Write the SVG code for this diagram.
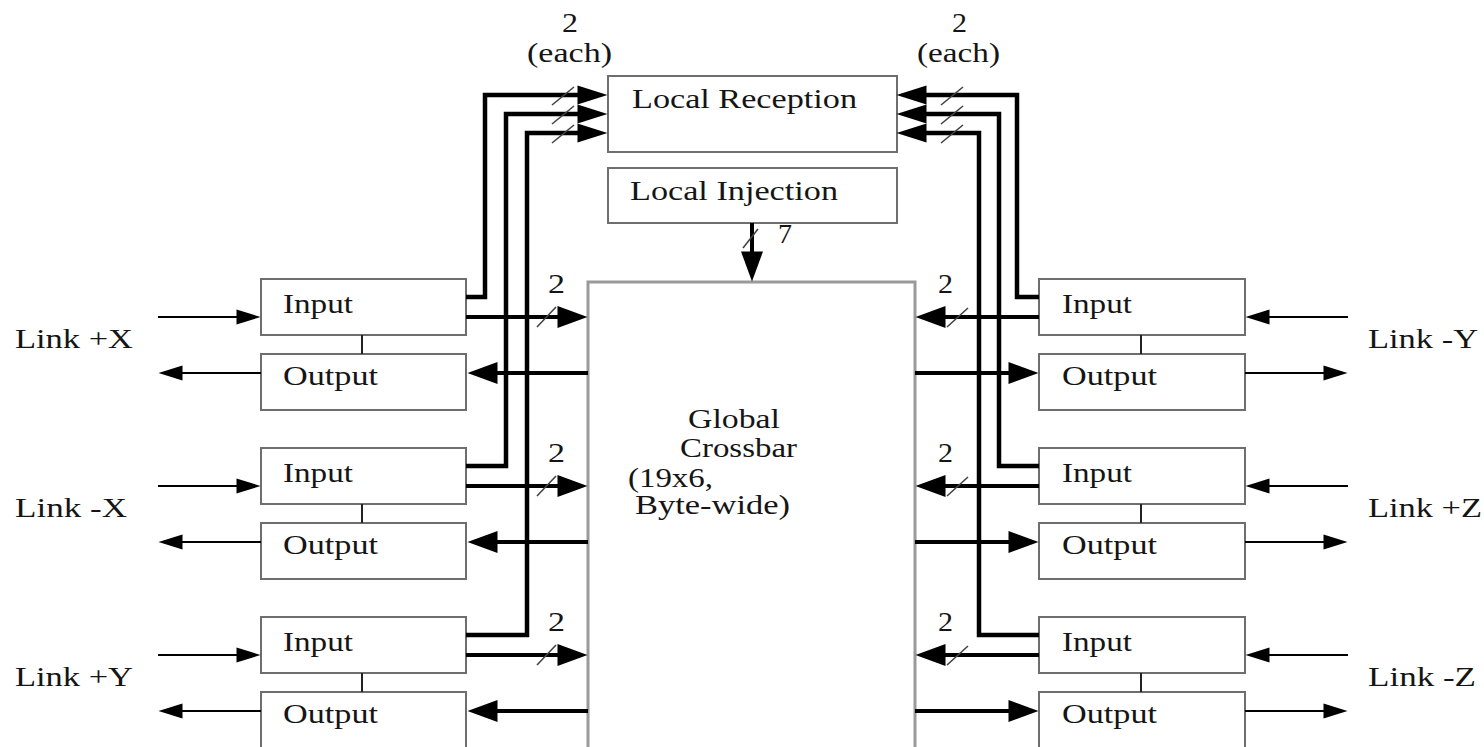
<svg xmlns="http://www.w3.org/2000/svg" width="1484" height="747" viewBox="0 0 1484 747">
  <style>
    .box { fill: #ffffff; stroke: #6e6e6e; stroke-width: 2; }
    .xbar { fill: #ffffff; stroke: #9a9a9a; stroke-width: 3; }
    .lbl { font-family: "Liberation Serif", "Times New Roman", serif; font-size: 27px; fill: #151515; }
    .bus { fill: none; stroke: #000; stroke-width: 4; }
    .route { fill: none; stroke: #000; stroke-width: 4.5; stroke-linejoin: miter; }
    .link { fill: none; stroke: #000; stroke-width: 2; }
    .tie { fill: none; stroke: #222; stroke-width: 2; }
    .slash { fill: none; stroke: #444; stroke-width: 1.6; }
  </style>
  <defs>
    <marker id="headBig" markerUnits="userSpaceOnUse" markerWidth="32" markerHeight="24" refX="0.5" refY="11" orient="auto" overflow="visible">
      <path d="M0,0 L30,11 L0,22 z" fill="#000"/>
    </marker>
    <marker id="headRx" markerUnits="userSpaceOnUse" markerWidth="31" markerHeight="21" refX="0.5" refY="9.5" orient="auto" overflow="visible">
      <path d="M0,0 L30,9.5 L0,19 z" fill="#000"/>
    </marker>
    <marker id="headThin" markerUnits="userSpaceOnUse" markerWidth="26" markerHeight="17" refX="0.5" refY="7.5" orient="auto" overflow="visible">
      <path d="M0,0 L24,7.5 L0,15 z" fill="#000"/>
    </marker>
  </defs>

  <!-- central switch -->
  <g id="crossbar">
    <rect class="xbar" x="588" y="282" width="327" height="490"/>
    <text class="lbl" x="688" y="428" textLength="92" lengthAdjust="spacingAndGlyphs">Global</text>
    <text class="lbl" x="680" y="457" textLength="117" lengthAdjust="spacingAndGlyphs">Crossbar</text>
    <text class="lbl" x="628" y="487" textLength="85" lengthAdjust="spacingAndGlyphs">(19x6,</text>
    <text class="lbl" x="635" y="514" textLength="155" lengthAdjust="spacingAndGlyphs">Byte-wide)</text>
  </g>

  <g id="local-reception">
    <rect class="box" x="608" y="76" width="289" height="76"/>
    <text class="lbl" x="632" y="108" textLength="225" lengthAdjust="spacingAndGlyphs">Local Reception</text>
  </g>

  <g id="local-injection">
    <rect class="box" x="608" y="168" width="289" height="55"/>
    <text class="lbl" x="630" y="200" textLength="208" lengthAdjust="spacingAndGlyphs">Local Injection</text>
  </g>

  <!-- left-side link ports -->
  <g id="port-plus-x">
    <rect class="box" x="261" y="279" width="205" height="56"/>
    <text class="lbl" x="283" y="313" textLength="70" lengthAdjust="spacingAndGlyphs">Input</text>
    <rect class="box" x="261" y="354" width="205" height="56"/>
    <text class="lbl" x="283" y="385" textLength="95" lengthAdjust="spacingAndGlyphs">Output</text>
    <text class="lbl" x="15" y="348" textLength="118" lengthAdjust="spacingAndGlyphs">Link +X</text>
  </g>
  <g id="port-minus-x">
    <rect class="box" x="261" y="448" width="205" height="56"/>
    <text class="lbl" x="283" y="482" textLength="70" lengthAdjust="spacingAndGlyphs">Input</text>
    <rect class="box" x="261" y="523" width="205" height="56"/>
    <text class="lbl" x="283" y="554" textLength="95" lengthAdjust="spacingAndGlyphs">Output</text>
    <text class="lbl" x="15" y="517" textLength="112" lengthAdjust="spacingAndGlyphs">Link -X</text>
  </g>
  <g id="port-plus-y">
    <rect class="box" x="261" y="617" width="205" height="56"/>
    <text class="lbl" x="283" y="651" textLength="70" lengthAdjust="spacingAndGlyphs">Input</text>
    <rect class="box" x="261" y="692" width="205" height="56"/>
    <text class="lbl" x="283" y="723" textLength="95" lengthAdjust="spacingAndGlyphs">Output</text>
    <text class="lbl" x="15" y="686" textLength="118" lengthAdjust="spacingAndGlyphs">Link +Y</text>
  </g>

  <!-- right-side link ports -->
  <g id="port-minus-y">
    <rect class="box" x="1039" y="279" width="206" height="56"/>
    <text class="lbl" x="1062" y="313" textLength="70" lengthAdjust="spacingAndGlyphs">Input</text>
    <rect class="box" x="1039" y="354" width="206" height="56"/>
    <text class="lbl" x="1062" y="385" textLength="95" lengthAdjust="spacingAndGlyphs">Output</text>
    <text class="lbl" x="1368" y="348" textLength="110" lengthAdjust="spacingAndGlyphs">Link -Y</text>
  </g>
  <g id="port-plus-z">
    <rect class="box" x="1039" y="448" width="206" height="56"/>
    <text class="lbl" x="1062" y="482" textLength="70" lengthAdjust="spacingAndGlyphs">Input</text>
    <rect class="box" x="1039" y="523" width="206" height="56"/>
    <text class="lbl" x="1062" y="554" textLength="95" lengthAdjust="spacingAndGlyphs">Output</text>
    <text class="lbl" x="1368" y="517" textLength="114" lengthAdjust="spacingAndGlyphs">Link +Z</text>
  </g>
  <g id="port-minus-z">
    <rect class="box" x="1039" y="617" width="206" height="56"/>
    <text class="lbl" x="1062" y="651" textLength="70" lengthAdjust="spacingAndGlyphs">Input</text>
    <rect class="box" x="1039" y="692" width="206" height="56"/>
    <text class="lbl" x="1062" y="723" textLength="95" lengthAdjust="spacingAndGlyphs">Output</text>
    <text class="lbl" x="1368" y="686" textLength="108" lengthAdjust="spacingAndGlyphs">Link -Z</text>
  </g>

  <g id="connectors">
    <!-- input/output pairing ties -->
    <path class="tie" d="M362,335 V354 M362,504 V523 M362,673 V692 M1141,335 V354 M1141,504 V523 M1141,673 V692"/>

    <!-- external links, left -->
    <path class="link" d="M158,317 H237" marker-end="url(#headThin)"/>
    <path class="link" d="M261,373 H182" marker-end="url(#headThin)"/>
    <path class="link" d="M158,486 H237" marker-end="url(#headThin)"/>
    <path class="link" d="M261,542 H182" marker-end="url(#headThin)"/>
    <path class="link" d="M158,655 H237" marker-end="url(#headThin)"/>
    <path class="link" d="M261,711 H182" marker-end="url(#headThin)"/>

    <!-- external links, right -->
    <path class="link" d="M1348,317 H1269" marker-end="url(#headThin)"/>
    <path class="link" d="M1245,373 H1324" marker-end="url(#headThin)"/>
    <path class="link" d="M1348,486 H1269" marker-end="url(#headThin)"/>
    <path class="link" d="M1245,542 H1324" marker-end="url(#headThin)"/>
    <path class="link" d="M1348,655 H1269" marker-end="url(#headThin)"/>
    <path class="link" d="M1245,711 H1324" marker-end="url(#headThin)"/>

    <!-- reception routes, left -->
    <path class="route" d="M466,297 H485 V95 H578" marker-end="url(#headRx)"/>
    <path class="route" d="M466,466 H506 V114 H578" marker-end="url(#headRx)"/>
    <path class="route" d="M466,635 H527 V133 H578" marker-end="url(#headRx)"/>

    <!-- reception routes, right -->
    <path class="route" d="M1039,297 H1017 V95 H926" marker-end="url(#headRx)"/>
    <path class="route" d="M1039,466 H999 V114 H926" marker-end="url(#headRx)"/>
    <path class="route" d="M1039,635 H979 V133 H926" marker-end="url(#headRx)"/>

    <!-- crossbar buses, left -->
    <path class="bus" d="M466,317 H558" marker-end="url(#headBig)"/>
    <path class="bus" d="M588,373 H497" marker-end="url(#headBig)"/>
    <path class="bus" d="M466,486 H558" marker-end="url(#headBig)"/>
    <path class="bus" d="M588,542 H497" marker-end="url(#headBig)"/>
    <path class="bus" d="M466,655 H558" marker-end="url(#headBig)"/>
    <path class="bus" d="M588,711 H497" marker-end="url(#headBig)"/>

    <!-- crossbar buses, right -->
    <path class="bus" d="M1039,317 H945" marker-end="url(#headBig)"/>
    <path class="bus" d="M915,373 H1009" marker-end="url(#headBig)"/>
    <path class="bus" d="M1039,486 H945" marker-end="url(#headBig)"/>
    <path class="bus" d="M915,542 H1009" marker-end="url(#headBig)"/>
    <path class="bus" d="M1039,655 H945" marker-end="url(#headBig)"/>
    <path class="bus" d="M915,711 H1009" marker-end="url(#headBig)"/>

    <!-- injection into crossbar -->
    <path class="bus" d="M752,223 V252" marker-end="url(#headBig)"/>

    <!-- width ticks -->
    <path class="slash" d="M552,105 L574,87 M552,124 L574,106 M552,143 L574,125"/>
    <path class="slash" d="M941,105 L963,87 M941,124 L963,106 M941,143 L963,125"/>
    <path class="slash" d="M537,327 L556,307 M537,496 L556,476 M537,665 L556,645"/>
    <path class="slash" d="M947,327 L968,308 M947,496 L968,477 M947,665 L968,646"/>
    <path class="slash" d="M743,248 L758,229"/>

    <!-- width labels -->
    <text class="lbl" x="562" y="32" textLength="16" lengthAdjust="spacingAndGlyphs">2</text>
    <text class="lbl" x="527" y="62" textLength="85" lengthAdjust="spacingAndGlyphs">(each)</text>
    <text class="lbl" x="952" y="32" textLength="15" lengthAdjust="spacingAndGlyphs">2</text>
    <text class="lbl" x="917" y="62" textLength="83" lengthAdjust="spacingAndGlyphs">(each)</text>
    <text class="lbl" x="778" y="243" textLength="14" lengthAdjust="spacingAndGlyphs">7</text>
    <text class="lbl" x="548" y="293" textLength="17" lengthAdjust="spacingAndGlyphs">2</text>
    <text class="lbl" x="548" y="462" textLength="17" lengthAdjust="spacingAndGlyphs">2</text>
    <text class="lbl" x="548" y="631" textLength="17" lengthAdjust="spacingAndGlyphs">2</text>
    <text class="lbl" x="938" y="293" textLength="15" lengthAdjust="spacingAndGlyphs">2</text>
    <text class="lbl" x="938" y="462" textLength="15" lengthAdjust="spacingAndGlyphs">2</text>
    <text class="lbl" x="938" y="631" textLength="15" lengthAdjust="spacingAndGlyphs">2</text>
  </g>
</svg>
